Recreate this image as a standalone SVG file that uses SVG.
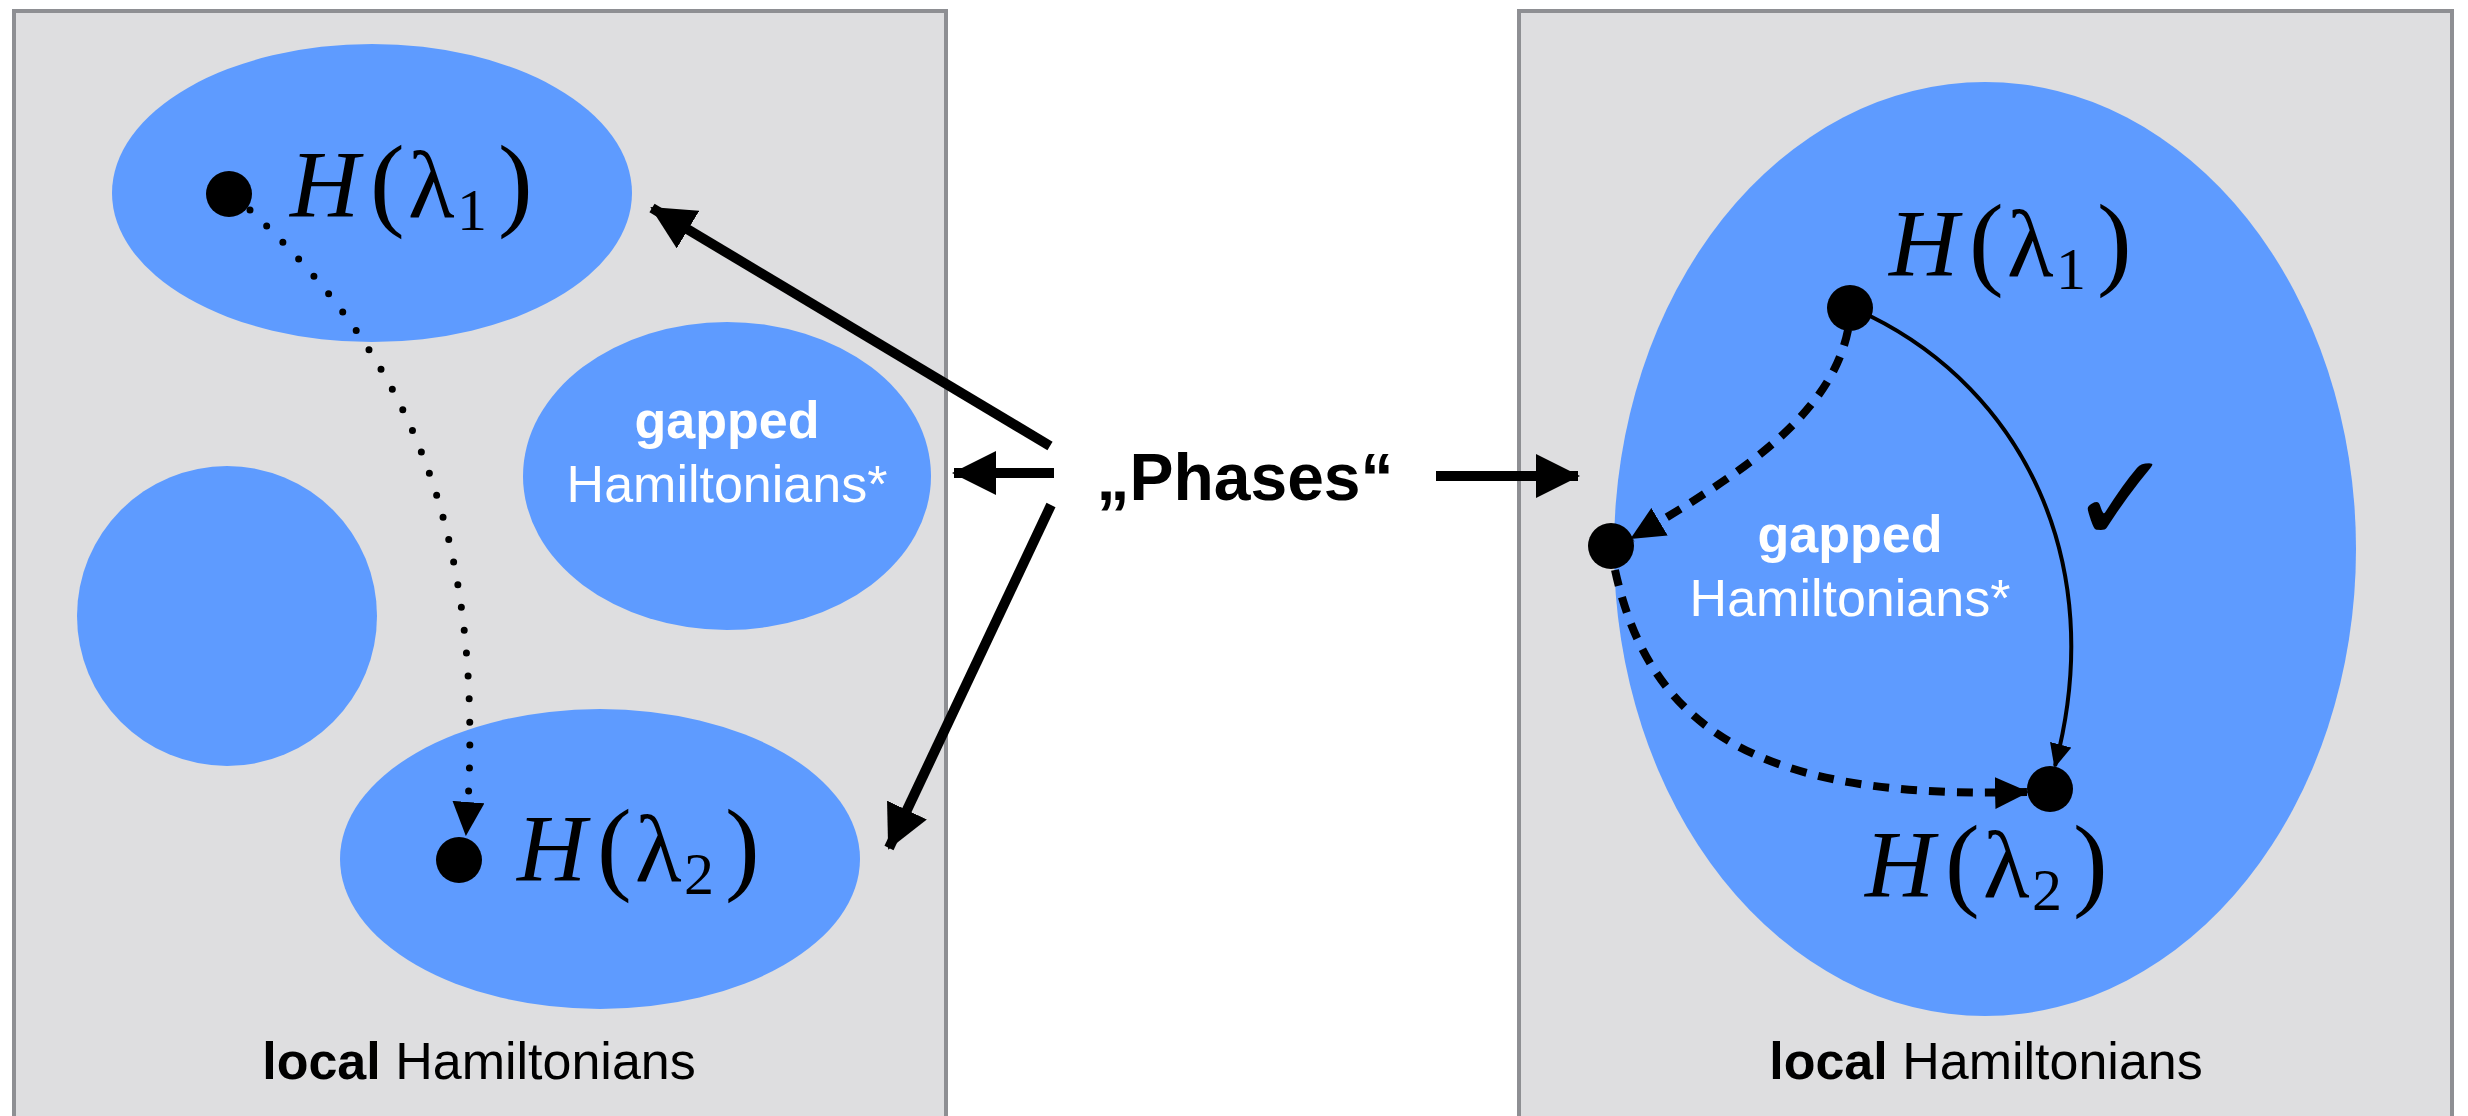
<svg xmlns="http://www.w3.org/2000/svg" width="2468" height="1116" viewBox="0 0 2468 1116">
<defs>
<style>
.panel{fill:#dedee0;stroke:#8e8f93;stroke-width:4}
.blob{fill:#5e9bff}
.dot{fill:#000}
.math{font-family:"Liberation Serif",serif;font-size:96px;fill:#000}
.it{font-style:italic}
.par{font-size:104px}
.sub{font-size:60px}
.lab{font-family:"Liberation Sans",Arial,sans-serif;font-size:52px}
.w{fill:#fff}
.b{font-weight:bold}
.thick{fill:none;stroke:#000;stroke-width:10}
</style>
<marker id="bigHead" markerUnits="userSpaceOnUse" viewBox="0 0 44 44" refX="42" refY="22" markerWidth="44" markerHeight="44" orient="auto"><path d="M0,0 L44,22 L0,44 z" fill="#000"/></marker>
<marker id="midHead" markerUnits="userSpaceOnUse" viewBox="0 0 34 32" refX="32" refY="16" markerWidth="34" markerHeight="32" orient="auto"><path d="M0,0 L34,16 L0,32 z" fill="#000"/></marker>
<marker id="smallHead" markerUnits="userSpaceOnUse" viewBox="0 0 24 22" refX="22" refY="11" markerWidth="24" markerHeight="22" orient="auto"><path d="M0,0 L24,11 L0,22 z" fill="#000"/></marker>
</defs>
<rect width="2468" height="1116" fill="#fff"/>

<g id="left-panel">
<rect class="panel" x="14" y="11" width="932" height="1120"/>
<text class="lab" x="479" y="1079" text-anchor="middle"><tspan class="b">local</tspan> Hamiltonians</text>
</g>
<g id="right-panel">
<rect class="panel" x="1519" y="11" width="933" height="1120"/>
<text class="lab" x="1986" y="1079" text-anchor="middle"><tspan class="b">local</tspan> Hamiltonians</text>
</g>

<g id="phase-top">
<ellipse class="blob" cx="372" cy="193" rx="260" ry="149"/>
</g>
<g id="phase-gapped-left">
<ellipse class="blob" cx="727" cy="476" rx="204" ry="154"/>
<text class="lab w b" x="727" y="438" text-anchor="middle">gapped</text>
<text class="lab w" x="727" y="502" text-anchor="middle">Hamiltonians*</text>
</g>
<g id="phase-circle">
<ellipse class="blob" cx="227" cy="616" rx="150" ry="150"/>
</g>
<g id="phase-bottom">
<ellipse class="blob" cx="600" cy="859" rx="260" ry="150"/>
</g>
<g id="phase-big">
<ellipse class="blob" cx="1985" cy="549" rx="371" ry="467"/>
<text class="lab w b" x="1850" y="552" text-anchor="middle">gapped</text>
<text class="lab w" x="1850" y="616" text-anchor="middle">Hamiltonians*</text>
<text x="2069" y="542" font-family="DejaVu Sans,sans-serif" font-size="125" font-weight="bold" fill="#000">✓</text>
</g>

<g id="H1-left">
<circle class="dot" cx="229" cy="194" r="23"/>
<text class="math" y="217"><tspan class="it" x="290">H</tspan><tspan class="par" x="370">(</tspan><tspan x="408">λ</tspan><tspan class="sub" x="457" dy="13">1</tspan><tspan class="par" x="498" dy="-13">)</tspan></text>
</g>
<g id="H2-left">
<circle class="dot" cx="459" cy="860" r="23"/>
<text class="math" y="881"><tspan class="it" x="517">H</tspan><tspan class="par" x="597">(</tspan><tspan x="635">λ</tspan><tspan class="sub" x="684" dy="13">2</tspan><tspan class="par" x="725" dy="-13">)</tspan></text>
</g>
<g id="H1-right">
<circle class="dot" cx="1850" cy="308" r="23"/>
<text class="math" y="276"><tspan class="it" x="1889">H</tspan><tspan class="par" x="1969">(</tspan><tspan x="2007">λ</tspan><tspan class="sub" x="2056" dy="13">1</tspan><tspan class="par" x="2097" dy="-13">)</tspan></text>
</g>
<g id="mid-right">
<circle class="dot" cx="1611" cy="546" r="23"/>
</g>
<g id="H2-right">
<circle class="dot" cx="2050" cy="789" r="23"/>
<text class="math" y="897"><tspan class="it" x="1865">H</tspan><tspan class="par" x="1945">(</tspan><tspan x="1983">λ</tspan><tspan class="sub" x="2032" dy="13">2</tspan><tspan class="par" x="2073" dy="-13">)</tspan></text>
</g>

<g id="phases-label">
<text x="1245" y="500" text-anchor="middle" font-family="Liberation Sans,Arial,sans-serif" font-size="66" font-weight="bold" fill="#000">„Phases“</text>
</g>

<g id="connectors">
<path class="thick" d="M1050,446 L652,208" marker-end="url(#bigHead)"/>
<path class="thick" d="M1054,473 L954,473" marker-end="url(#bigHead)"/>
<path class="thick" d="M1051,505 L889,848" marker-end="url(#bigHead)"/>
<path class="thick" d="M1436,476 L1578,476" marker-end="url(#bigHead)"/>
<path d="M250,210 C400,350 490,520 466,834" fill="none" stroke="#000" stroke-width="7" stroke-linecap="round" stroke-dasharray="0 23" marker-end="url(#midHead)"/>
<path d="M1870,316 C2020,390 2110,560 2055,766" fill="none" stroke="#000" stroke-width="4" marker-end="url(#smallHead)"/>
<path d="M1848,330 C1830,420 1730,480 1632,538" fill="none" stroke="#000" stroke-width="8" stroke-dasharray="16 12" marker-end="url(#midHead)"/>
<path d="M1615,570 C1650,730 1760,800 2027,792" fill="none" stroke="#000" stroke-width="8" stroke-dasharray="16 12" marker-end="url(#midHead)"/>
</g>
</svg>
